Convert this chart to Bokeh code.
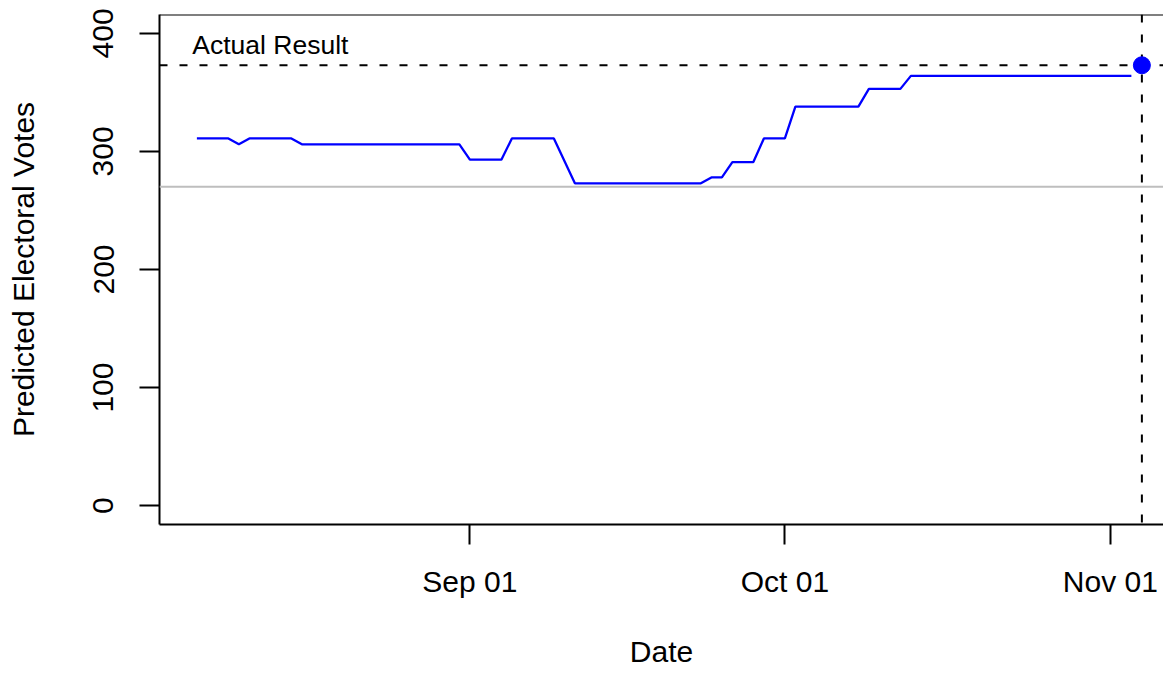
import datetime as dt
from bokeh.plotting import figure
from bokeh.models import Span, Label, FixedTicker, DatetimeTickFormatter, Range1d
from bokeh.embed import file_html
from bokeh.resources import INLINE

# ---- data ----
dates = ["2008-08-06", "2008-08-09", "2008-08-10", "2008-08-11", "2008-08-15",
         "2008-08-16", "2008-08-31", "2008-09-01", "2008-09-04", "2008-09-05",
         "2008-09-09", "2008-09-11", "2008-09-23", "2008-09-24", "2008-09-25",
         "2008-09-26", "2008-09-28", "2008-09-29", "2008-10-01", "2008-10-02",
         "2008-10-08", "2008-10-09", "2008-10-12", "2008-10-13", "2008-11-03"]
votes = [311, 311, 306, 311, 311,
         306, 306, 293, 293, 311,
         311, 273, 273, 278, 278,
         291, 291, 311, 311, 338,
         338, 353, 353, 364, 364]
election_day = "2008-11-04"
actual_result = 373
majority = 270
tick_dates = ["2008-09-01", "2008-10-01", "2008-11-01"]
y_ticks = [0, 100, 200, 300, 400]

def d(s):
    return dt.datetime.strptime(s, "%Y-%m-%d")

def ms(x):
    return (x - dt.datetime(1970, 1, 1)).total_seconds() * 1000.0

xs = [d(s) for s in dates]
DAY = 86400000.0
span_days = (xs[-1] - xs[0]).days
x_start = ms(xs[0]) - 0.04 * span_days * DAY

W, H = 1163, 675
LEFT, TOP, BOTTOM = 159, 14, 151
frame_w = W - LEFT
px_per_day = 10.5
x_end = x_start + frame_w / px_per_day * DAY

FONT = "Liberation Sans"

p = figure(width=W, height=H, x_axis_type="datetime",
           x_range=Range1d(x_start, x_end), y_range=Range1d(-16, 416),
           output_backend="svg", toolbar_location=None,
           min_border_left=LEFT, min_border_right=0, min_border_top=TOP,
           min_border_bottom=BOTTOM)
p.outline_line_color = None
p.grid.visible = False
p.background_fill_color = "white"
p.border_fill_color = "white"

# reference lines
p.add_layout(Span(location=majority, dimension="width", line_color="#BEBEBE", line_width=2))
p.add_layout(Span(location=actual_result, dimension="width", line_color="black",
                  line_width=2, line_dash="8 12"))
p.add_layout(Span(location=ms(d(election_day)), dimension="height", line_color="black",
                  line_width=2, line_dash="8 12"))
# top border of box
p.add_layout(Span(location=416, dimension="width", line_color="black", line_width=2))

p.line(xs, votes, line_color="#0000FF", line_width=2.3)
p.scatter([d(election_day)], [actual_result], size=17, fill_color="#0000FF",
          line_color="#0000FF", marker="circle", level="overlay")

p.add_layout(Label(x=ms(d("2008-08-13")), y=390, text="Actual Result",
                   text_align="center", text_baseline="middle",
                   text_font=FONT, text_font_size="26.5px", text_color="black"))

# axes
xa = p.xaxis[0]
xa.ticker = FixedTicker(ticks=[ms(d(s)) for s in tick_dates])
fmt = "%b %d"
xa.formatter = DatetimeTickFormatter(days=fmt, months=fmt, years=fmt, hours=fmt,
                                     hourmin=fmt)
xa.axis_label = "Date"
ya = p.yaxis[0]
ya.ticker = FixedTicker(ticks=y_ticks)
ya.axis_label = "Predicted Electoral Votes"
ya.major_label_orientation = "vertical"

for ax in (xa, ya):
    ax.axis_line_width = 2
    ax.axis_line_color = "black"
    ax.major_tick_line_width = 2
    ax.major_tick_line_color = "black"
    ax.major_tick_out = 20
    ax.major_tick_in = 0
    ax.minor_tick_line_color = None
    ax.major_label_text_font = FONT
    ax.major_label_text_font_size = "30px"
    ax.major_label_text_color = "black"
    ax.axis_label_text_font = FONT
    ax.axis_label_text_font_size = "30px"
    ax.axis_label_text_font_style = "normal"
    ax.axis_label_text_color = "black"

xa.major_label_standoff = 20
xa.axis_label_standoff = 34
ya.major_label_standoff = 26
ya.axis_label_standoff = 51

open("out.html", "w").write(file_html(p, INLINE))
